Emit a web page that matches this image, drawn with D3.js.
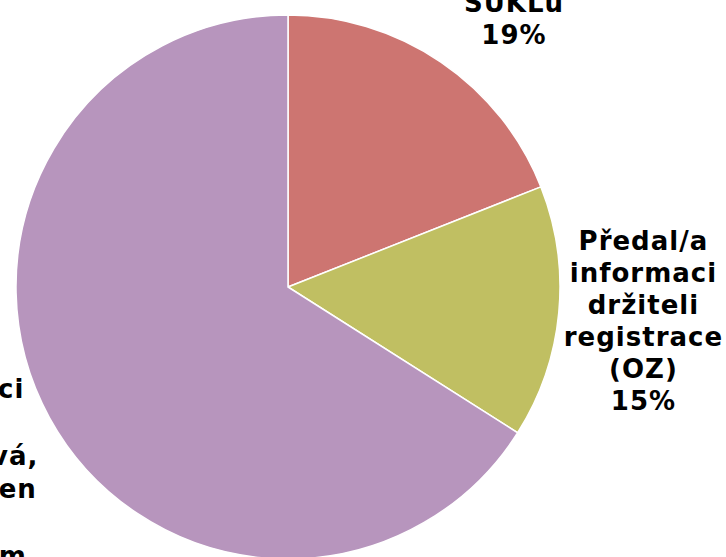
<!DOCTYPE html>
<html>
<head>
<meta charset="utf-8">
<script src="https://cdn.jsdelivr.net/npm/d3@7"></script>
<style>
  html, body { margin: 0; padding: 0; background: #fff; }
  svg { display: block; }
  .lbl { font-family: "DejaVu Sans", Verdana, sans-serif; font-weight: bold; font-size: 26px; letter-spacing: 1px; fill: #000; }
</style>
</head>
<body>
<div id="chart"></div>
<script>
// data
var categories = ["SÚKLu", "Předal/a informaci držiteli registrace (OZ)", "Nikam informaci dál nepředává"];
var values = [19, 15, 66];
var colors = ["#CD7571", "#C0BF62", "#B795BD"];
var labelLines = [
  ["Nahlásil/a", "nežádoucí", "účinek", "přímo", "SÚKLu"],
  ["Předal/a", "informaci", "držiteli", "registrace", "(OZ)"],
  ["Nikam", "informaci", "dál", "nepředává,", "probírá jen", "to", "s lékařem"]
];

var w = 726, h = 557;
var cx = 288, cy = 287, radius = 272;
// distance of each label block centre from the pie centre, and line spacing
var labelR = [402, 357, 385];
var lineH = [32, 32, 33.5];

var svg = d3.select("#chart").append("svg")
  .attr("width", w)
  .attr("height", h);

var data = categories.map(function(c, i) {
  return {name: c, value: values[i], color: colors[i], lines: labelLines[i]};
});
var total = d3.sum(values);

var pie = d3.pie()
  .value(function(d) { return d.value; })
  .sort(null);

var arc = d3.arc()
  .innerRadius(0)
  .outerRadius(radius);

var g = svg.append("g")
  .attr("transform", "translate(" + cx + "," + cy + ")");

var arcs = pie(data);

g.selectAll("path")
  .data(arcs)
  .enter()
  .append("path")
  .attr("d", arc)
  .attr("fill", function(d) { return d.data.color; })
  .attr("stroke", "#fff")
  .attr("stroke-width", 1.5);

var labels = g.append("g").classed("labels", true);

arcs.forEach(function(d, i) {
  var mid = (d.startAngle + d.endAngle) / 2;
  var lx = labelR[i] * Math.sin(mid);
  var ly = -labelR[i] * Math.cos(mid);
  var lines = d.data.lines.concat([Math.round(d.data.value / total * 100) + "%"]);
  var t = labels.append("text")
    .classed("lbl", true)
    .attr("text-anchor", "middle")
    .attr("x", lx)
    .attr("y", ly);
  lines.forEach(function(s, k) {
    t.append("tspan")
      .attr("x", lx)
      .attr("y", ly + (k - (lines.length - 1) / 2) * lineH[i] + 9)
      .text(s);
  });
});
</script>
</body>
</html>
